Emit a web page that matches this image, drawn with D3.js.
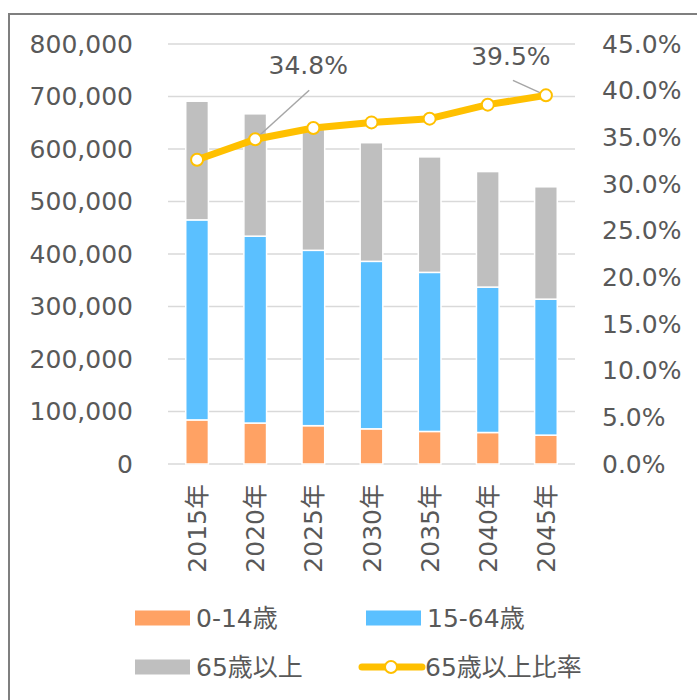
<!DOCTYPE html>
<html>
<head>
<meta charset="utf-8">
<script src="https://cdn.jsdelivr.net/npm/d3@7"></script>
<style>
  body { margin: 0; background: #fff; }
  text { font-family: "DejaVu Sans", "Noto Sans CJK JP", sans-serif; fill: #595959; }
</style>
</head>
<body>
<div id="chart"></div>
<script>
(function () {

// data
const years = ["2015年", "2020年", "2025年", "2030年", "2035年", "2040年", "2045年"];
const age0_14 = [84000, 78000, 73000, 67000, 62000, 60000, 55000];
const age15_64 = [381000, 356000, 334000, 319000, 303000, 277000, 259000];
const age65 = [226000, 233000, 235000, 226000, 220000, 220000, 214000];
const ratio65 = [0.326, 0.348, 0.360, 0.366, 0.370, 0.385, 0.395];
const seriesNames = ["0-14歳", "15-64歳", "65歳以上"];
const lineName = "65歳以上比率";
const leftTicks = [0, 100000, 200000, 300000, 400000, 500000, 600000, 700000, 800000];
const rightTicks = [0, 0.05, 0.10, 0.15, 0.20, 0.25, 0.30, 0.35, 0.40, 0.45];
const labelled = [1, 6]; // points with a data label

const colors = ["#ffa264", "#5bc0ff", "#bfbfbf"];
const lineColor = "#ffc000";

const W = 697, H = 700;
const plot = {left: 168, right: 575, top: 44, bottom: 464};

const svg = d3.select("#chart").append("svg")
    .attr("width", W)
    .attr("height", H);

// outer frame (runs off the right and bottom edge)
svg.append("rect")
    .attr("x", 9).attr("y", 14)
    .attr("width", 720).attr("height", 720)
    .attr("fill", "none")
    .attr("stroke", "#7f7f7f")
    .attr("stroke-width", 2);

const x = d3.scaleBand()
    .domain(years)
    .range([plot.left, plot.right])
    .paddingInner(0.61)
    .paddingOuter(0.305);

const y = d3.scaleLinear()
    .domain([0, 800000])
    .range([plot.bottom, plot.top]);

const y2 = d3.scaleLinear()
    .domain([0, 0.45])
    .range([plot.bottom, plot.top]);

// gridlines
svg.append("g")
  .selectAll("line")
  .data(leftTicks)
  .join("line")
    .attr("x1", plot.left).attr("x2", plot.right)
    .attr("y1", d => y(d)).attr("y2", d => y(d))
    .attr("stroke", "#d9d9d9")
    .attr("stroke-width", 1.5);

// left axis
svg.append("g")
    .attr("transform", `translate(${plot.left - 35},0)`)
    .call(d3.axisLeft(y).tickValues(leftTicks).tickSize(0).tickPadding(0).tickFormat(d3.format(",")))
    .call(g => g.select(".domain").remove())
    .call(g => g.selectAll("text").attr("font-size", 25).attr("fill", "#595959")
        .attr("font-family", null));

// right axis
svg.append("g")
    .attr("transform", `translate(${plot.right + 27},0)`)
    .call(d3.axisRight(y2).tickValues(rightTicks).tickSize(0).tickPadding(0).tickFormat(d3.format(".1%")))
    .call(g => g.select(".domain").remove())
    .call(g => g.selectAll("text").attr("font-size", 25).attr("fill", "#595959")
        .attr("font-family", null));

// stacked bars
const table = years.map((yr, i) => ({year: yr, a: age0_14[i], b: age15_64[i], c: age65[i]}));
const stack = d3.stack().keys(["a", "b", "c"])(table);

svg.append("g")
  .selectAll("g")
  .data(stack)
  .join("g")
    .attr("fill", (d, i) => colors[i])
  .selectAll("rect")
  .data(D => D)
  .join("rect")
    .attr("x", d => x(d.data.year))
    .attr("y", d => y(d[1]))
    .attr("height", d => y(d[0]) - y(d[1]))
    .attr("width", x.bandwidth())
    .attr("stroke", "#fff")
    .attr("stroke-width", 1.5);

// x labels, rotated
svg.append("g")
  .selectAll("text")
  .data(years)
  .join("text")
    .attr("transform", d => `translate(${x(d) + x.bandwidth() / 2 + 9},${plot.bottom + 20}) rotate(-90)`)
    .attr("text-anchor", "end")
    .attr("font-size", 25)
    .text(d => d);

// ratio line
const cx = (d, i) => x(years[i]) + x.bandwidth() / 2;
const line = d3.line()
    .x((d, i) => cx(d, i))
    .y(d => y2(d));

// leader lines for labels
const labelOffsets = {1: [53, -74], 6: [-35, -39]};
const leaderStart = {1: [54, -49], 6: [-33, -15]};
svg.append("g")
  .selectAll("line")
  .data(labelled)
  .join("line")
    .attr("x1", i => cx(null, i) + leaderStart[i][0])
    .attr("y1", i => y2(ratio65[i]) + leaderStart[i][1])
    .attr("x2", i => cx(null, i))
    .attr("y2", i => y2(ratio65[i]))
    .attr("stroke", "#a6a6a6")
    .attr("stroke-width", 1.5);

svg.append("path")
    .datum(ratio65)
    .attr("d", line)
    .attr("fill", "none")
    .attr("stroke", lineColor)
    .attr("stroke-width", 7)
    .attr("stroke-linejoin", "round");

svg.append("g")
  .selectAll("circle")
  .data(ratio65)
  .join("circle")
    .attr("cx", (d, i) => cx(d, i))
    .attr("cy", d => y2(d))
    .attr("r", 6)
    .attr("fill", "#fff")
    .attr("stroke", lineColor)
    .attr("stroke-width", 2);

svg.append("g")
  .selectAll("text")
  .data(labelled)
  .join("text")
    .attr("x", i => cx(null, i) + labelOffsets[i][0])
    .attr("y", i => y2(ratio65[i]) + labelOffsets[i][1])
    .attr("dy", "0.35em")
    .attr("text-anchor", "middle")
    .attr("font-size", 25)
    .text(i => d3.format(".1%")(ratio65[i]));

// legend
const legend = svg.append("g");
const items = [
  {name: seriesNames[0], color: colors[0], x: 135, y: 618, type: "rect"},
  {name: seriesNames[1], color: colors[1], x: 366, y: 618, type: "rect"},
  {name: seriesNames[2], color: colors[2], x: 135, y: 667, type: "rect"},
  {name: lineName, color: lineColor, x: 362, y: 667, type: "line"}
];

items.forEach(it => {
  const g = legend.append("g").attr("transform", `translate(${it.x},${it.y})`);
  if (it.type === "rect") {
    g.append("rect")
        .attr("x", 0).attr("y", -7.5)
        .attr("width", 55).attr("height", 15)
        .attr("fill", it.color);
    g.append("text")
        .attr("x", 61).attr("dy", "0.35em")
        .attr("font-size", 25)
        .text(it.name);
  } else {
    g.append("line")
        .attr("x1", 0).attr("x2", 60)
        .attr("stroke", it.color)
        .attr("stroke-width", 7)
        .attr("stroke-linecap", "round");
    g.append("circle")
        .attr("cx", 29).attr("r", 6)
        .attr("fill", "#fff")
        .attr("stroke", it.color)
        .attr("stroke-width", 2);
    g.append("text")
        .attr("x", 63).attr("dy", "0.35em")
        .attr("font-size", 25)
        .text(it.name);
  }
});

})()
</script>
</body>
</html>
